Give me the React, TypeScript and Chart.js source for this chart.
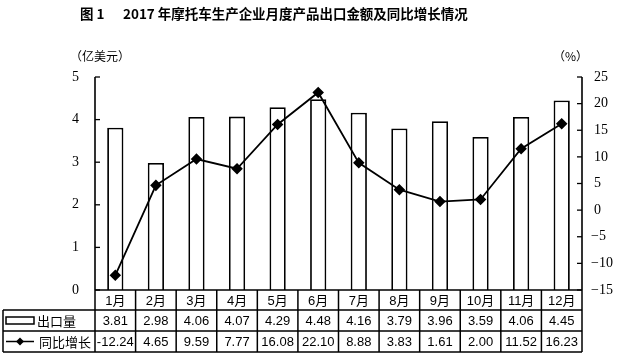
import React, { useEffect, useRef } from "react";
import { Chart, registerables } from "chart.js";

Chart.register(...registerables);

const months = ["1月", "2月", "3月", "4月", "5月", "6月", "7月", "8月", "9月", "10月", "11月", "12月"];
const exportValues = [3.81, 2.98, 4.06, 4.07, 4.29, 4.48, 4.16, 3.79, 3.96, 3.59, 4.06, 4.45];
const growthValues = [-12.24, 4.65, 9.59, 7.77, 16.08, 22.1, 8.88, 3.83, 1.61, 2.0, 11.52, 16.23];
const leftTicks = [0, 1, 2, 3, 4, 5];
const rightTicks = [-15, -10, -5, 0, 5, 10, 15, 20, 25];
const titleA = "图 1";
const titleB = "2017 年摩托车生产企业月度产品出口金额及同比增长情况";
const leftUnit = "（亿美元）";
const rightUnit = "（%）";
const exportName = "出口量";
const growthName = "同比增长";

const SERIF = '"Liberation Serif", "DejaVu Serif", serif';
const SANS = '"Liberation Sans", "Noto Sans CJK SC", sans-serif';
const CJK = '"Noto Sans CJK SC", sans-serif';

const decorPlugin = {
  id: "decor",
  afterDraw(chart: any) {
    const ctx = chart.ctx as CanvasRenderingContext2D;
    const { left, right, top, bottom } = chart.chartArea;
    const yL = chart.scales.y;
    const yR = chart.scales.y1;
    ctx.save();
    ctx.fillStyle = "#000";
    ctx.strokeStyle = "#000";

    // Title (fit to target width)
    ctx.textBaseline = "middle";
    ctx.textAlign = "left";
    ctx.font = `bold 15px ${CJK}`;
    const w = ctx.measureText(titleB).width;
    const fs = Math.min(15, (15 * 345) / w);
    ctx.font = `bold ${fs.toFixed(2)}px ${CJK}`;
    ctx.fillText(titleA, 80, 14);
    ctx.fillText(titleB, 123, 14);

    // unit labels
    ctx.font = `12px ${CJK}`;
    ctx.fillText(leftUnit, 70, 56);
    ctx.fillText(rightUnit, 553, 56);

    // axes
    ctx.lineWidth = 1.6;
    ctx.beginPath();
    ctx.moveTo(left, top);
    ctx.lineTo(left, bottom);
    ctx.moveTo(right, top);
    ctx.lineTo(right, bottom);
    ctx.stroke();

    ctx.lineWidth = 1.3;
    ctx.font = `14px ${SERIF}`;
    ctx.textAlign = "right";
    leftTicks.forEach((v) => {
      const y = yL.getPixelForValue(v);
      ctx.beginPath();
      ctx.moveTo(left, y);
      ctx.lineTo(left + 5, y);
      ctx.stroke();
      ctx.fillText(String(v), 79, y);
    });
    ctx.textAlign = "left";
    rightTicks.forEach((v) => {
      const y = yR.getPixelForValue(v);
      ctx.beginPath();
      ctx.moveTo(right, y);
      ctx.lineTo(right - 5, y);
      ctx.stroke();
      const s = v < 0 ? "\u2212" + Math.abs(v) : String(v);
      ctx.fillText(s, v < 0 ? 591 : 594, y);
    });

    // table
    const n = months.length;
    const cw = (right - left) / n;
    const r0 = bottom;
    const r1 = bottom + 20;
    const r2 = bottom + 41;
    const r3 = bottom + 62;
    const tl = 3;
    ctx.lineWidth = 1.5;
    ctx.beginPath();
    ctx.moveTo(left, r0);
    ctx.lineTo(right, r0);
    ctx.moveTo(tl, r1);
    ctx.lineTo(right, r1);
    ctx.moveTo(tl, r2);
    ctx.lineTo(right, r2);
    ctx.moveTo(tl, r3);
    ctx.lineTo(right, r3);
    ctx.moveTo(tl, r1);
    ctx.lineTo(tl, r3);
    for (let i = 0; i <= n; i++) {
      const x = left + i * cw;
      ctx.moveTo(x, r0);
      ctx.lineTo(x, r3);
    }
    ctx.stroke();

    ctx.font = `13px ${SANS}`;
    ctx.textAlign = "center";
    for (let i = 0; i < n; i++) {
      const cx = left + (i + 0.5) * cw;
      ctx.fillText(months[i], cx, (r0 + r1) / 2 + 1);
      ctx.fillText(exportValues[i].toFixed(2), cx, (r1 + r2) / 2 + 1);
      ctx.fillText(growthValues[i].toFixed(2), cx, (r2 + r3) / 2 + 1);
    }

    // legend symbols
    const m1 = (r1 + r2) / 2;
    const m2 = (r2 + r3) / 2;
    ctx.lineWidth = 1.5;
    ctx.strokeRect(6, m1 - 3.5, 28, 7);
    ctx.beginPath();
    ctx.moveTo(6, m2);
    ctx.lineTo(34, m2);
    ctx.stroke();
    ctx.beginPath();
    ctx.moveTo(20, m2 - 4);
    ctx.lineTo(24, m2);
    ctx.lineTo(20, m2 + 4);
    ctx.lineTo(16, m2);
    ctx.closePath();
    ctx.fill();
    ctx.textAlign = "left";
    ctx.font = `13px ${CJK}`;
    ctx.fillText(exportName, 37, m1 + 1);
    ctx.fillText(growthName, 39, m2 + 1);

    ctx.restore();
  },
};

export default function App() {
  const ref = useRef<HTMLCanvasElement | null>(null);
  useEffect(() => {
    document.body.style.margin = "0";
    if (!ref.current) return;
    const chart = new Chart(ref.current, {
      type: "bar",
      data: {
        labels: months,
        datasets: [
          {
            type: "line",
            label: growthName,
            data: growthValues,
            yAxisID: "y1",
            borderColor: "#000",
            backgroundColor: "#000",
            borderWidth: 1.8,
            pointStyle: "rectRot",
            pointRadius: 4.5,
            pointBackgroundColor: "#000",
            pointBorderColor: "#000",
            tension: 0,
            order: 0,
          } as any,
          {
            type: "bar",
            label: exportName,
            data: exportValues,
            yAxisID: "y",
            backgroundColor: "#fff",
            borderColor: "#000",
            borderWidth: 1.8,
            categoryPercentage: 0.8,
            barPercentage: 0.5,
            order: 1,
          } as any,
        ],
      },
      options: {
        responsive: false,
        animation: false,
        devicePixelRatio: 1,
        layout: { padding: { left: 95, right: 38, top: 77, bottom: 65 } },
        plugins: { legend: { display: false }, tooltip: { enabled: false }, title: { display: false } },
        scales: {
          x: { display: false, offset: true },
          y: { display: false, min: 0, max: 5 },
          y1: { display: false, min: -15, max: 25, position: "right" },
        },
      },
      plugins: [decorPlugin],
    });
    return () => chart.destroy();
  }, []);
  return (
    <div style={{ width: 620, height: 355, background: "#fff" }}>
      <canvas ref={ref} width={620} height={355} style={{ display: "block" }} />
    </div>
  );
}
